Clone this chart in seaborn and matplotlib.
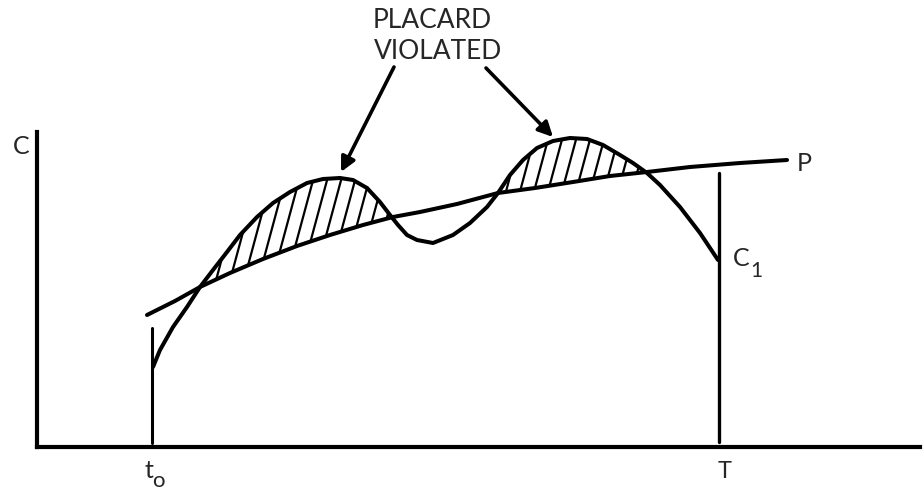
import numpy as np
import matplotlib.pyplot as plt
import seaborn as sns
from matplotlib.collections import LineCollection
from matplotlib.patches import PathPatch
from matplotlib.path import Path

# concentration curve C(t) (arbitrary units)
c_time = [116, 123, 136, 150, 163, 176, 190, 203, 220, 236, 253, 270, 286, 303,
          316, 330, 343, 353, 361, 370, 380, 396, 416, 433, 450, 461, 473, 486,
          500, 516, 533, 550, 566, 583, 596, 610, 623, 643, 663, 681]
c_value = [80, 97, 120, 140, 160, 177, 195, 212, 230, 244, 255, 264, 268, 269,
           267, 259, 245, 232, 222, 212, 207, 204, 212, 224, 240, 254, 272, 287,
           299, 306, 309, 308, 302, 292, 284, 274, 262, 240, 214, 187]

# placard limit P(t)
p_time = [110, 138, 163, 193, 226, 260, 293, 326, 356, 383, 420, 461, 498, 536,
          573, 610, 653, 703, 750]
p_value = [132, 146, 160, 174, 188, 201, 212, 222, 230, 235, 243, 254, 259, 265,
           271, 275, 280, 284, 287]

t0, t_end = 115, 682
t0_top, t_end_top = 119, 274

sns.set_style("white")
plt.rcParams['font.family'] = ['Lato', 'DejaVu Sans']

fig = plt.figure(figsize=(9.24, 4.9), dpi=100)
ax = fig.add_axes([37 / 924, 43 / 490, 883 / 924, 315 / 490])

line_kw = dict(estimator=None, color='black', linewidth=2.9, ax=ax,
               solid_joinstyle='round', solid_capstyle='round')
sns.lineplot(x=c_time, y=c_value, **line_kw)
sns.lineplot(x=p_time, y=p_value, **line_kw)

# vertical markers at t0 and T
ax.plot([t0, t0], [4, t0_top], color='black', linewidth=2.2)
ax.plot([t_end, t_end], [5, t_end_top], color='black', linewidth=2.4)

# shaded "violated" region where C > P, slanted hatching clipped to it
c_arr = np.array(c_time, dtype=float)
p_at_c = np.interp(c_arr, p_time, p_value)
region = ax.fill_between(c_arr, c_value, p_at_c, where=np.array(c_value) > p_at_c,
                         interpolate=True, facecolor='none', edgecolor='none')
clip = PathPatch(Path.make_compound_path(*region.get_paths()), facecolor='none',
                 edgecolor='none', transform=ax.transData)
ax.add_patch(clip)
segs = [[(x0, 0), (x0 + 0.27 * 320, 320)] for x0 in np.arange(-90, 900, 14)]
hatch = LineCollection(segs, colors='black', linewidths=1.6)
ax.add_collection(hatch)
hatch.set_clip_path(clip)

ax.set_xlim(0, 883)
ax.set_ylim(0, 315)
ax.set_xticks([])
ax.set_yticks([])
for side in ['top', 'right']:
    ax.spines[side].set_visible(False)
for side in ['left', 'bottom']:
    ax.spines[side].set_linewidth(3)
    ax.spines[side].set_color('black')

# labels
ax.text(-16, 300, 'C', fontsize=18, ha='center', va='center')
ax.text(760, 283, 'P', fontsize=18, ha='left', va='center')
ax.text(704, 188, 'C', fontsize=18, ha='center', va='center')
ax.text(719, 176, '1', fontsize=15, ha='center', va='center')
ax.text(112, -23, 't', fontsize=18, ha='center', va='center')
ax.text(121, -34, 'o', fontsize=16, ha='center', va='center')
ax.text(688, -24, 'T', fontsize=17, ha='center', va='center')

ax.text(395, 426, 'PLACARD', fontsize=19, ha='center', va='center', clip_on=False)
ax.text(401, 395, 'VIOLATED', fontsize=19, ha='center', va='center', clip_on=False)
arrow = dict(arrowstyle='-|>', color='black', lw=2.6, mutation_scale=22,
             shrinkA=0, shrinkB=0)
ax.annotate('', xy=(304, 275), xytext=(357, 380), arrowprops=arrow,
            annotation_clip=False)
ax.annotate('', xy=(516, 310), xytext=(449, 379), arrowprops=arrow,
            annotation_clip=False)

plt.savefig('out.png', dpi=100)
